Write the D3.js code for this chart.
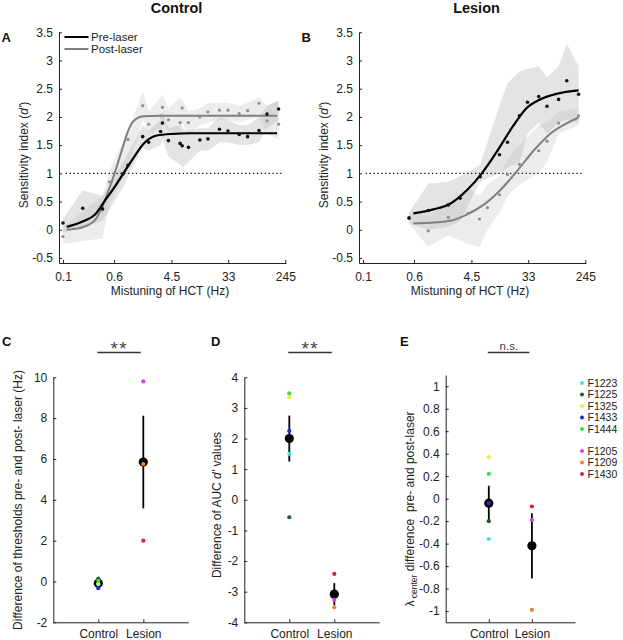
<!DOCTYPE html>
<html><head><meta charset="utf-8">
<script src="https://cdn.jsdelivr.net/npm/d3@7"></script>
<style>
body{margin:0;background:#fff;}
text{font-family:"Liberation Sans",Arial,Helvetica,sans-serif;}
</style></head><body>
<svg id="chart" width="623" height="640"></svg>
<script>
// ================= DATA =================
const freqTicks = [0.1, 0.6, 4.5, 33, 245];
const dTicks = [-0.5, 0, 0.5, 1, 1.5, 2, 2.5, 3, 3.5];
const criterionLevel = 1;
const criterionSpan = [0.11, 220];
const legendLabels = ["Pre-laser", "Post-laser"];
const panelTitles = ["Control", "Lesion"];

// Panel A: control, pre-laser
const ctrlPreFreq = [0.10, 0.20, 0.40, 0.82, 0.98, 1.64, 2.02, 3.08, 3.28, 4.05, 6.11, 6.56, 8.18, 12.2, 16.2, 24.3, 32.7, 48.6, 65.2, 97.3, 128.8, 193.6];
const ctrlPreD    = [0.12, 0.38, 0.37, 0.99, 1.14, 1.65, 1.55, 1.74, 1.89, 1.58, 1.53, 1.49, 1.46, 1.59, 1.61, 1.78, 1.75, 1.69, 1.65, 1.76, 2.05, 2.14];
const ctrlPreLo   = [-0.05, 0.05, 0.15, 0.75, 0.95, 1.45, 1.40, 1.50, 1.60, 1.30, 1.15, 1.10, 1.20, 1.40, 1.40, 1.55, 1.55, 1.50, 1.50, 1.55, 1.80, 1.95];
const ctrlPreHi   = [0.20, 0.70, 0.60, 1.20, 1.35, 1.85, 1.75, 1.95, 2.10, 1.80, 1.85, 1.80, 1.75, 1.80, 1.80, 2.00, 1.95, 1.85, 1.85, 2.00, 2.20, 2.30];
const ctrlPreFitFreq = [0.114, 0.204, 0.308, 0.438, 0.622, 0.834, 1.26, 1.68, 2.70, 4.83, 8.69, 183];
const ctrlPreFitD    = [0.05, 0.15, 0.27, 0.52, 0.77, 1.00, 1.32, 1.52, 1.67, 1.70, 1.71, 1.71];

// Panel A: control, post-laser
const ctrlPostFreq = [0.10, 0.40, 0.51, 0.98, 1.64, 2.02, 3.08, 3.28, 4.05, 6.11, 6.56, 8.18, 12.2, 16.2, 24.3, 32.7, 48.6, 65.2, 97.3, 128.8, 193.6];
const ctrlPostD    = [-0.12, 0.35, 0.85, 1.60, 2.20, 1.87, 2.02, 2.17, 1.95, 1.90, 2.16, 1.90, 2.00, 2.09, 2.12, 2.12, 2.06, 2.11, 2.24, 1.93, 1.87];
const ctrlPostLo   = [-0.25, -0.15, 0.45, 1.10, 1.95, 1.70, 1.80, 1.90, 1.75, 1.70, 1.90, 1.70, 1.85, 1.90, 1.95, 1.95, 1.90, 1.95, 2.00, 1.70, 1.60];
const ctrlPostHi   = [0.05, 0.60, 1.05, 1.75, 2.45, 2.10, 2.35, 2.40, 2.15, 2.35, 2.30, 2.10, 2.15, 2.25, 2.25, 2.25, 2.20, 2.25, 2.35, 2.20, 2.28];
const ctrlPostFitFreq = [0.114, 0.193, 0.308, 0.412, 0.522, 0.661, 0.834, 0.98, 1.18, 1.68, 3.03, 183];
const ctrlPostFitD    = [0.00, 0.04, 0.17, 0.45, 0.77, 1.12, 1.50, 1.75, 1.92, 2.01, 2.02, 2.02];

// Panel B: lesion, pre-laser
const lesPreFreq = [0.503, 0.99, 2.0, 3.03, 6.11, 12.05, 15.96, 24.3, 32.2, 47.8, 63.8, 95.9, 127.9, 193.6];
const lesPreD    = [0.21, 0.34, 0.44, 0.56, 0.94, 1.33, 1.55, 2.02, 2.26, 2.36, 2.19, 2.31, 2.64, 2.40];
const lesPreLo   = [0.12, 0.00, 0.05, 0.15, 0.85, 1.00, 1.10, 1.20, 1.70, 1.90, 1.70, 1.90, 1.95, 1.90];
const lesPreHi   = [0.30, 0.82, 0.85, 0.95, 1.15, 2.20, 2.60, 2.80, 2.85, 2.90, 2.70, 2.90, 3.30, 2.90];
const lesPreFitFreq = [0.586, 1.18, 2.13, 3.83, 6.49, 11.5, 19.7, 30.8, 50.4, 90.6, 193.6];
const lesPreFitD    = [0.29, 0.36, 0.46, 0.70, 1.00, 1.42, 1.85, 2.15, 2.31, 2.41, 2.47];

// Panel B: lesion, post-laser
const lesPostFreq = [0.503, 0.99, 2.0, 3.97, 5.97, 7.9, 12.05, 15.96, 24.3, 47.8, 63.8, 95.9, 193.6];
const lesPostD    = [0.20, -0.02, 0.22, 0.29, 0.19, 0.39, 0.62, 0.98, 1.16, 1.40, 1.57, 1.89, 2.02];
const lesPostLo   = [0.10, -0.30, -0.10, -0.25, -0.30, 0.00, 0.30, 0.60, 0.80, 1.00, 1.20, 1.70, 1.85];
const lesPostHi   = [0.30, 0.25, 0.50, 0.75, 0.60, 0.80, 0.95, 1.25, 1.50, 1.85, 1.90, 2.10, 2.15];
const lesPostFitFreq = [0.586, 2.13, 3.83, 6.87, 12.35, 20.9, 39.8, 71.6, 128.8, 193.6];
const lesPostFitD    = [0.11, 0.16, 0.27, 0.44, 0.70, 1.00, 1.40, 1.70, 1.89, 1.99];

// Panels C-E: individual animals
const groups = ["Control", "Lesion"];
const animals = ["F1223", "F1225", "F1325", "F1433", "F1444", "F1205", "F1209", "F1430"];
const animalGroups = ["Control", "Control", "Control", "Control", "Control", "Lesion", "Lesion", "Lesion"];
const animalColors = ["#3ee6e6", "#1d5e2a", "#eeee3a", "#1f2bd0", "#3ed84a", "#d442e0", "#e8843a", "#d8262e"];

const thresholdDiff = [-0.15, 0.14, -0.10, -0.33, 0.03, 9.80, 5.75, 2.00];
const thresholdMean = [-0.09, 5.85];
const thresholdSem  = [0.08, 2.27];
const thresholdTicks = [-2, 0, 2, 4, 6, 8, 10];

const aucDiff = [1.50, -0.57, 3.35, 2.25, 3.48, -3.27, -3.51, -2.42];
const aucMean = [2.00, -3.08];
const aucSem  = [0.75, 0.36];
const aucTicks = [-4, -3, -2, -1, 0, 1, 2, 3, 4];

const lambdaDiff = [-0.36, -0.20, 0.37, -0.04, 0.22, -0.19, -0.99, -0.07];
const lambdaMean = [-0.04, -0.42];
const lambdaSem  = [0.155, 0.29];
const lambdaTicks = [-1, -0.8, -0.6, -0.4, -0.2, 0, 0.2, 0.4, 0.6, 0.8, 1];

const statLabels = ["**", "**", "n.s."];

// ================= DRAWING =================
const svg = d3.select("#chart");
const AX = "#222";
const fmt = d => String(d);

function styleAxis(g) {
  g.attr("font-size", 12).attr("font-family", null);
  g.select(".domain").attr("stroke", AX).attr("stroke-width", 1);
  g.selectAll(".tick line").attr("stroke", AX).attr("stroke-width", 1);
  g.selectAll(".tick text").attr("fill", AX);
}

function zipSeries(f, d, lo, hi) {
  return f.map((v, i) => ({f: v, d: d[i], lo: lo ? lo[i] : null, hi: hi ? hi[i] : null}));
}

function curvePanel(ox, letter, title, pre, post, preFit, postFit, showLegend) {
  const base = d3.scaleLog().domain([0.1, 245]).range([63 + ox, 285.3 + ox]);
  const x = d3.scaleLog().domain([base.invert(59 + ox), base.invert(286 + ox)]).range([59 + ox, 286 + ox]);
  const y = d3.scaleLinear().domain([-0.59, 3.5]).range([263, 32.3]);
  const g = svg.append("g");

  // bands
  const area = d3.area().x(d => x(d.f)).y0(d => y(d.lo)).y1(d => y(d.hi));
  g.append("path").datum(post).attr("d", area).attr("fill", "#c4c4c4").attr("fill-opacity", 0.33);
  g.append("path").datum(pre).attr("d", area).attr("fill", "#b4b4b4").attr("fill-opacity", 0.36);

  // criterion line
  g.append("line")
    .attr("x1", x(criterionSpan[0])).attr("x2", x(criterionSpan[1]))
    .attr("y1", y(criterionLevel)).attr("y2", y(criterionLevel))
    .attr("stroke", "#111").attr("stroke-width", 1.3).attr("stroke-dasharray", "1.3,2.6");

  // fitted curves
  const line = d3.line().x(d => x(d.f)).y(d => y(d.d)).curve(d3.curveMonotoneX);
  g.append("path").datum(postFit).attr("d", line).attr("fill", "none").attr("stroke", "#7f7f7f").attr("stroke-width", 2);
  g.append("path").datum(preFit).attr("d", line).attr("fill", "none").attr("stroke", "#000").attr("stroke-width", 2.2);

  // points
  g.selectAll("circle.post").data(post).join("circle").attr("class", "post")
    .attr("cx", d => x(d.f)).attr("cy", d => y(d.d)).attr("r", 1.6).attr("fill", "#8e8e8e");
  g.selectAll("circle.pre").data(pre).join("circle").attr("class", "pre")
    .attr("cx", d => x(d.f)).attr("cy", d => y(d.d)).attr("r", 1.8).attr("fill", "#111");

  // axes
  const ya = g.append("g").attr("transform", `translate(${59 + ox},0)`)
    .call(d3.axisLeft(y).tickValues(dTicks).tickFormat(fmt).tickSizeInner(-3).tickSizeOuter(0).tickPadding(6));
  styleAxis(ya);
  const xa = g.append("g").attr("transform", `translate(0,263)`)
    .call(d3.axisBottom(x).tickValues(freqTicks).tickFormat(fmt).tickSizeInner(-3).tickSizeOuter(0).tickPadding(9));
  styleAxis(xa);

  g.append("text").attr("x", 170 + ox).attr("y", 295).attr("text-anchor", "middle")
    .attr("font-size", 12).attr("fill", AX).text("Mistuning of HCT (Hz)");
  const yl = g.append("text").attr("transform", `translate(${27.5 + ox},155) rotate(-90)`)
    .attr("text-anchor", "middle").attr("font-size", 12).attr("fill", AX);
  yl.append("tspan").text("Sensitivity index (");
  yl.append("tspan").attr("font-style", "italic").text("d'");
  yl.append("tspan").text(")");

  g.append("text").attr("x", 176.5 + ox).attr("y", 13).attr("text-anchor", "middle")
    .attr("font-size", 14.5).attr("font-weight", "bold").attr("fill", "#111").text(title);
  g.append("text").attr("x", 1.5 + ox).attr("y", 41.5).attr("font-size", 13)
    .attr("font-weight", "bold").attr("fill", "#111").text(letter);

  if (showLegend) {
    const cols = ["#000", "#7f7f7f"];
    legendLabels.forEach((lab, i) => {
      const ly = 37 + i * 12;
      g.append("line").attr("x1", 64.5 + ox).attr("x2", 88.5 + ox).attr("y1", ly).attr("y2", ly)
        .attr("stroke", cols[i]).attr("stroke-width", 2);
      g.append("text").attr("x", 91 + ox).attr("y", ly + 3.8).attr("font-size", 11.5).attr("fill", AX).text(lab);
    });
  }
}

curvePanel(0, "A", panelTitles[0],
  zipSeries(ctrlPreFreq, ctrlPreD, ctrlPreLo, ctrlPreHi),
  zipSeries(ctrlPostFreq, ctrlPostD, ctrlPostLo, ctrlPostHi),
  zipSeries(ctrlPreFitFreq, ctrlPreFitD), zipSeries(ctrlPostFitFreq, ctrlPostFitD), true);
curvePanel(300, "B", panelTitles[1],
  zipSeries(lesPreFreq, lesPreD, lesPreLo, lesPreHi),
  zipSeries(lesPostFreq, lesPostD, lesPostLo, lesPostHi),
  zipSeries(lesPreFitFreq, lesPreFitD), zipSeries(lesPostFitFreq, lesPostFitD), false);

// ----- dot panels -----
function dotPanel(cfg) {
  const g = svg.append("g");
  const x = d3.scalePoint().domain(groups).range([cfg.x0, cfg.x1]).padding(1);
  const y = d3.scaleLinear().domain(cfg.domain).range([622.3, cfg.top]);

  const xa = g.append("g").attr("transform", "translate(0,622.3)")
    .call(d3.axisBottom(x).tickSizeInner(-3).tickSizeOuter(0).tickPadding(7));
  styleAxis(xa);
  const ya = g.append("g").attr("transform", `translate(${cfg.x0},0)`)
    .call(d3.axisLeft(y).tickValues(cfg.ticks).tickFormat(fmt).tickSizeInner(-3).tickSizeOuter(0).tickPadding(6));
  styleAxis(ya);

  // error bars + means
  groups.forEach((gr, i) => {
    g.append("line").attr("x1", x(gr)).attr("x2", x(gr))
      .attr("y1", y(cfg.mean[i] - cfg.sem[i])).attr("y2", y(cfg.mean[i] + cfg.sem[i]))
      .attr("stroke", "#000").attr("stroke-width", 1.8);
    g.append("circle").attr("cx", x(gr)).attr("cy", y(cfg.mean[i])).attr("r", 4.6).attr("fill", "#000");
  });
  // individuals
  g.selectAll("circle.ind").data(cfg.values).join("circle").attr("class", "ind")
    .attr("cx", (d, i) => x(animalGroups[i])).attr("cy", d => y(d)).attr("r", 2.1)
    .attr("fill", (d, i) => animalColors[i]);

  // stat bar
  g.append("line").attr("x1", x(groups[0]) - 1).attr("x2", x(groups[1]) - 2.5)
    .attr("y1", 352.5).attr("y2", 352.5).attr("stroke", "#333").attr("stroke-width", 1.5);
  const st = g.append("text").attr("x", (x(groups[0]) + x(groups[1])) / 2 - 1.5).attr("text-anchor", "middle")
    .attr("fill", "#444").text(cfg.stat);
  if (cfg.stat === "**") st.attr("y", 355).attr("font-size", 19).attr("letter-spacing", 1.5);
  else st.attr("y", 349.5).attr("font-size", 11.5);

  g.append("text").attr("x", cfg.letterX).attr("y", 346).attr("font-size", 13)
    .attr("font-weight", "bold").attr("fill", "#111").text(cfg.letter);

  const yl = g.append("text").attr("transform", `translate(${cfg.labelX},${cfg.labelY}) rotate(-90)`)
    .attr("text-anchor", "middle").attr("font-size", 12).attr("fill", AX).style("white-space", "pre");
  cfg.label(yl);
}

dotPanel({x0: 53.3, x1: 188.3, domain: [-2, 10], top: 377.3, ticks: thresholdTicks,
  values: thresholdDiff, mean: thresholdMean, sem: thresholdSem, stat: statLabels[0],
  letter: "C", letterX: 2, labelX: 22, labelY: 500,
  label: t => t.text("Difference of thresholds pre- and post- laser (Hz)")});
dotPanel({x0: 244.3, x1: 379.3, domain: [-4, 4], top: 377.3, ticks: aucTicks,
  values: aucDiff, mean: aucMean, sem: aucSem, stat: statLabels[1],
  letter: "D", letterX: 211, labelX: 221, labelY: 505,
  label: t => { t.append("tspan").text("Difference of AUC ");
                t.append("tspan").attr("font-style", "italic").text("d'");
                t.append("tspan").text(" values"); }});
dotPanel({x0: 445.7, x1: 575, domain: [-1.1, 1.1], top: 375, ticks: lambdaTicks,
  values: lambdaDiff, mean: lambdaMean, sem: lambdaSem, stat: statLabels[2],
  letter: "E", letterX: 400, labelX: 414, labelY: 509,
  label: t => { t.append("tspan").text("λ");
                t.append("tspan").attr("font-size", 8.5).attr("dy", 3).text(" center");
                t.append("tspan").attr("dy", -3).text(" difference  pre- and post-laser"); }});

// legend for animals
const leg = svg.append("g");
animals.forEach((a, i) => {
  const cy = i < 5 ? 383 + i * 11.5 : 451 + (i - 5) * 11.5;
  leg.append("circle").attr("cx", 582).attr("cy", cy).attr("r", 2).attr("fill", animalColors[i]);
  leg.append("text").attr("x", 587.5).attr("y", cy + 3.7).attr("font-size", 10.5).attr("fill", AX).text(a);
});
</script>
</body></html>
